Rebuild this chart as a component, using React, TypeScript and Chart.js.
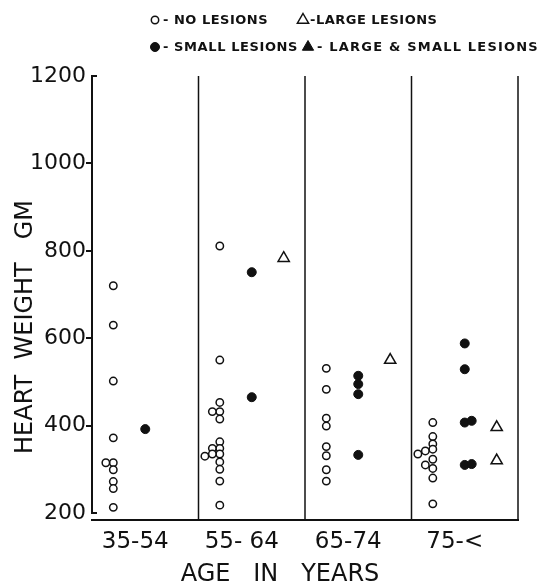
import { useEffect, useRef } from "react";
import { Chart, registerables } from "chart.js";

Chart.register(...registerables);

// ---- data ----
const ageGroups = ["35-54", "55- 64", "65-74", "75-<"];
const yTickValues = [200, 400, 600, 800, 1000, 1200];
const seriesNames = ["NO LESIONS", "SMALL LESIONS", "LARGE LESIONS", "LARGE & SMALL LESIONS"];

// heart weight (gm) per age group
const noLesions = [
  [720, 630, 502, 372, 315, 315, 299, 272, 256, 213],
  [811, 550, 453, 432, 432, 415, 363, 348, 348, 335, 335, 330, 317, 300, 273, 218],
  [531, 483, 417, 399, 352, 331, 299, 273],
  [407, 375, 358, 346, 342, 335, 323, 302, 310, 280, 221],
];
const smallLesions = [[392], [751, 465], [514, 495, 472, 333], [588, 529, 407, 411, 310, 312]];
const largeLesions = [[], [783], [550], [396, 320]];
const largeSmallLesions = [[], [], [], []];

const INK = "#111";
const FONT = "'DejaVu Sans', sans-serif";

// place points inside their age-group column; overlapping values are dodged sideways
function toPoints(groups: number[][], base: number, step: number) {
  const pts: { x: number; y: number }[] = [];
  groups.forEach((vals, g) => {
    vals.forEach((v, i) => {
      let col = 0;
      for (let j = 0; j < i; j++) if (Math.abs(vals[j] - v) < 12) col++;
      pts.push({ x: g + base + col * step, y: v });
    });
  });
  return pts;
}

function drawSymbol(ctx: CanvasRenderingContext2D, d: any, x: number, y: number) {
  const r = d.pointRadius;
  ctx.save();
  ctx.lineWidth = d.borderWidth;
  ctx.strokeStyle = d.borderColor;
  ctx.fillStyle = d.backgroundColor;
  ctx.beginPath();
  if (d.pointStyle === "triangle") {
    ctx.moveTo(x, y - r);
    ctx.lineTo(x + r * 0.866, y + r * 0.5);
    ctx.lineTo(x - r * 0.866, y + r * 0.5);
    ctx.closePath();
  } else {
    ctx.arc(x, y, r, 0, Math.PI * 2);
  }
  ctx.fill();
  ctx.stroke();
  ctx.restore();
}

const framePlugin = {
  id: "frame",
  afterDraw(chart: any) {
    const { ctx, chartArea, scales } = chart;
    const xs = scales.x;
    const ys = scales.y;
    ctx.save();
    ctx.strokeStyle = INK;
    ctx.fillStyle = INK;
    // y axis line with bracket feet
    const yTop = ys.getPixelForValue(1200);
    const yBot = ys.getPixelForValue(200);
    const xl = chartArea.left;
    ctx.lineWidth = 2;
    ctx.beginPath();
    ctx.moveTo(xl + 5, yTop);
    ctx.lineTo(xl, yTop);
    ctx.lineTo(xl, yBot);
    ctx.lineTo(xl + 5, yBot);
    ctx.stroke();
    // group separators
    ctx.lineWidth = 1.5;
    for (let i = 1; i <= ageGroups.length; i++) {
      const px = xs.getPixelForValue(i);
      ctx.beginPath();
      ctx.moveTo(px, chartArea.top);
      ctx.lineTo(px, chartArea.bottom);
      ctx.stroke();
    }
    // axis titles
    ctx.font = `24px ${FONT}`;
    ctx.textAlign = "center";
    ctx.textBaseline = "alphabetic";
    ctx.fillText("AGE   IN   YEARS", (chartArea.left + chartArea.right) / 2 - 25, 581);
    ctx.save();
    ctx.translate(32, 327);
    ctx.rotate(-Math.PI / 2);
    ctx.fillText("HEART  WEIGHT   GM", 0, 0);
    ctx.restore();

    // legend
    const items = [
      { ds: 0, sx: 155, sy: 20, tx: 163, sp: "0.5px", text: "- " + seriesNames[0] },
      { ds: 2, sx: 303, sy: 20, tx: 310, sp: "0.5px", text: "-" + seriesNames[2] },
      { ds: 1, sx: 155, sy: 47, tx: 163, sp: "0.6px", text: "- " + seriesNames[1] },
      { ds: 3, sx: 308, sy: 47, tx: 317, sp: "1.2px", text: "- " + seriesNames[3] },
    ];
    ctx.font = `bold 13px ${FONT}`;
    ctx.textAlign = "left";
    ctx.textBaseline = "middle";
    for (const it of items) {
      const d = chart.data.datasets[it.ds];
      drawSymbol(ctx, d, it.sx, it.sy);
      ctx.fillStyle = INK;
      (ctx as any).letterSpacing = it.sp;
      ctx.fillText(it.text, it.tx, it.sy + 1);
    }
    ctx.restore();
  },
};

export default function App() {
  const ref = useRef<HTMLCanvasElement | null>(null);
  useEffect(() => {
    document.body.style.margin = "0";
    if (!ref.current) return;
    const chart = new Chart(ref.current, {
      type: "scatter",
      data: {
        datasets: [
          {
            label: seriesNames[0],
            data: toPoints(noLesions, 0.2, -0.07),
            pointStyle: "circle",
            pointRadius: 3.7,
            borderWidth: 1.5,
            borderColor: INK,
            backgroundColor: "#fff",
          },
          {
            label: seriesNames[1],
            data: toPoints(smallLesions, 0.5, 0.065),
            pointStyle: "circle",
            pointRadius: 4.5,
            borderWidth: 1,
            borderColor: INK,
            backgroundColor: INK,
          },
          {
            label: seriesNames[2],
            data: toPoints(largeLesions, 0.8, 0.07),
            pointStyle: "triangle",
            pointRadius: 6.5,
            borderWidth: 1.5,
            borderColor: INK,
            backgroundColor: "#fff",
          },
          {
            label: seriesNames[3],
            data: toPoints(largeSmallLesions, 0.8, 0.07),
            pointStyle: "triangle",
            pointRadius: 6.5,
            borderWidth: 1,
            borderColor: INK,
            backgroundColor: INK,
          },
        ] as any,
      },
      options: {
        animation: false,
        responsive: false,
        layout: { padding: { top: 76, right: 25, left: 0, bottom: 0 } },
        plugins: { legend: { display: false }, tooltip: { enabled: false } },
        scales: {
          x: {
            type: "linear",
            min: 0,
            max: ageGroups.length,
            afterBuildTicks: (s: any) => {
              s.ticks = ageGroups.map((_, i) => ({ value: i + 0.5 }));
            },
            afterFit: (s: any) => {
              s.height = 64;
            },
            ticks: {
              callback: (_v: any, i: number) => ageGroups[i],
              font: { family: FONT, size: 23 },
              color: INK,
              labelOffset: -10,
              padding: 8,
              autoSkip: false,
              maxRotation: 0,
            },
            grid: { display: false, drawTicks: false },
            border: { display: true, color: INK, width: 2 },
          },
          y: {
            type: "linear",
            min: 184,
            max: 1200,
            afterBuildTicks: (s: any) => {
              s.ticks = yTickValues.map((v) => ({ value: v }));
            },
            afterFit: (s: any) => {
              s.width = 92;
            },
            ticks: {
              font: { family: FONT, size: 22 },
              color: INK,
              padding: 0,
              callback: (v: any) => String(v),
            },
            grid: {
              display: true,
              drawOnChartArea: false,
              drawTicks: true,
              tickLength: 6,
              lineWidth: 2,
              color: (c: any) =>
                c.tick && (c.tick.value === 200 || c.tick.value === 1200) ? "rgba(0,0,0,0)" : INK,
            },
            border: { display: false },
          },
        },
      } as any,
      plugins: [framePlugin],
    });
    return () => chart.destroy();
  }, []);
  return (
    <div style={{ width: 543, height: 584, background: "#fff" }}>
      <canvas ref={ref} width={543} height={584} />
    </div>
  );
}
